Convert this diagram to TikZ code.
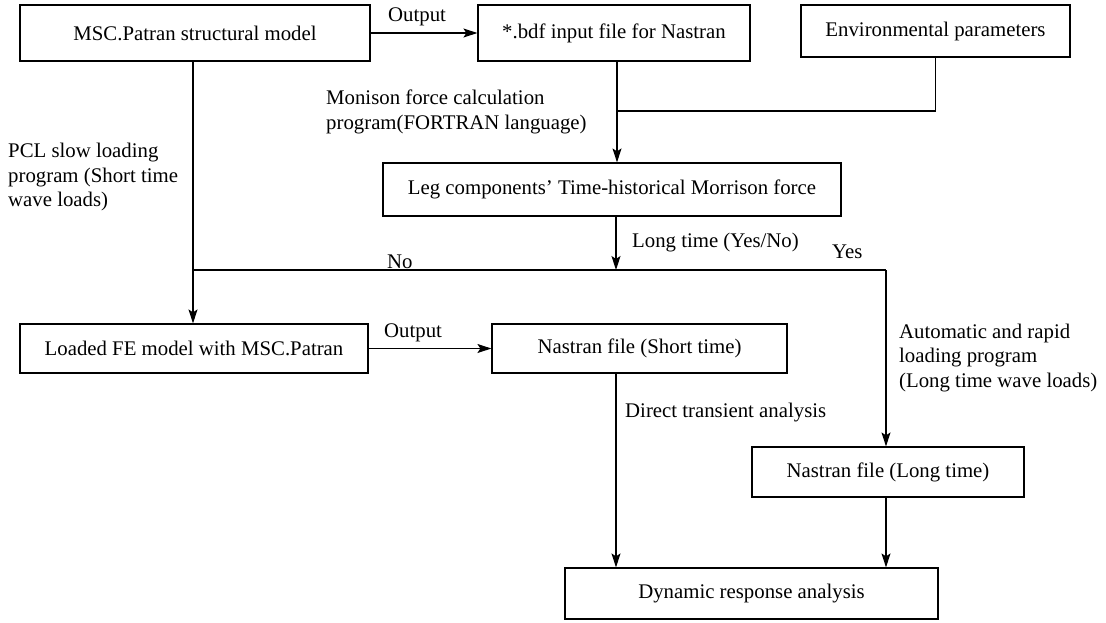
\documentclass[tikz,border=0pt]{standalone}
\usepackage{fontspec}
\setmainfont{Liberation Serif}
\usetikzlibrary{arrows.meta}
\begin{document}
\begin{tikzpicture}[x=1pt,y=-1pt,
    font=\fontsize{20.8}{24.5}\selectfont,
    box/.style={draw,line width=1.2pt,inner sep=0pt},
    line/.style={line width=1.1pt},
    flow/.style={line width=1.1pt,-{Stealth[length=14pt,width=9pt,inset=3pt]}},
    lbl/.style={anchor=west,inner sep=0pt,align=left}]
    \useasboundingbox (0,0) rectangle (1106,622);

    % boxes
    \node[box,minimum width=350,minimum height=56] (model) at (195,33) {MSC.Patran structural model};
    \node[box,minimum width=272,minimum height=56] (bdf) at (614,33) {*.bdf input file for Nastran};
    \node[box,minimum width=269,minimum height=52] (env) at (935.5,31) {Environmental parameters};
    \node[box,minimum width=458,minimum height=53] (leg) at (612,189.5) {Leg components’ Time-historical Morrison force};
    \node[box,minimum width=348,minimum height=49] (loaded) at (194,348.5) {Loaded FE model with MSC.Patran};
    \node[box,minimum width=295,minimum height=49] (short) at (639.5,348.5) {Nastran file (Short time)};
    \node[box,minimum width=272,minimum height=50] (long) at (888,472) {Nastran file (Long time)};
    \node[box,minimum width=373,minimum height=51] (dyn) at (751.5,593.5) {Dynamic response analysis};

    % junctions
    \coordinate (join) at (617,111);
    \coordinate (split) at (616,270);
    \coordinate (no) at (193,270);
    \coordinate (yes) at (886,270);

    % connectors
    \draw[flow] (model.east) -- (bdf.west);
    \draw[line] (join |- bdf.south) -- (join);
    \draw[line] (env.south) |- (join);
    \draw[flow] (join) -- (join |- leg.north);
    \draw[flow] (split |- leg.south) -- (split);
    \draw[flow] (no |- model.south) -- (no |- loaded.north);
    \draw[line] (no) -- (yes);
    \draw[flow] (yes) -- (yes |- long.north);
    \draw[flow] (loaded.east) -- (short.west);
    \draw[flow] (split |- short.south) -- (split |- dyn.north);
    \draw[flow] (yes |- long.south) -- (yes |- dyn.north);

    % labels
    \node[lbl] (out1) at (388,17) {Output};
    \node[lbl] (monison) at (326,112) {Monison force calculation\\program(FORTRAN language)};
    \node[lbl] (pcl) at (8,177) {PCL slow loading\\program (Short time\\wave loads)};
    \node[lbl] (ask) at (632,243) {Long time (Yes/No)};
    \node[lbl] (lyes) at (832,252) {Yes};
    \node[lbl] (lno) at (387,262) {No};
    \node[lbl] (out2) at (384,333) {Output};
    \node[lbl] (auto) at (899,358) {Automatic and rapid\\loading program\\(Long time wave loads)};
    \node[lbl] (direct) at (625,413) {Direct transient analysis};
\end{tikzpicture}
\end{document}
